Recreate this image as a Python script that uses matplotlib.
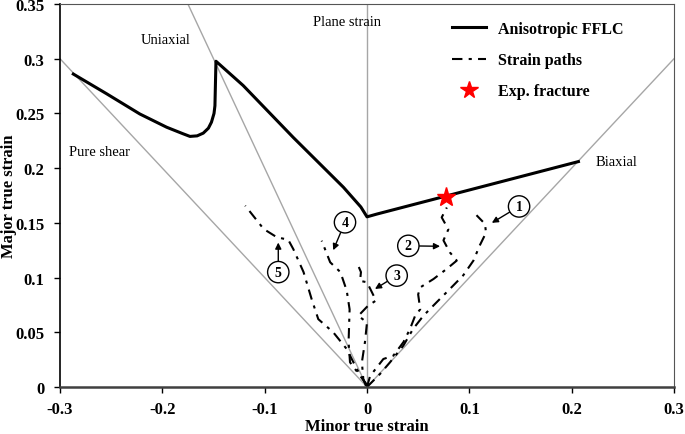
import matplotlib
matplotlib.use("Agg")
import matplotlib.pyplot as plt
from matplotlib.lines import Line2D

plt.rcParams['font.family'] = ['Liberation Serif', 'DejaVu Serif']

# FFLC curve
fflc_x = [-0.287, -0.2545, -0.222, -0.1958, -0.180, -0.173, -0.166, -0.160, -0.155, -0.152, -0.1495,
          -0.1486, -0.148, -0.1476, -0.121, -0.072, -0.023, -0.006, 0.0, 0.0095, 0.2066]
fflc_y = [0.286, 0.268, 0.2495, 0.2374, 0.2315, 0.229, 0.2295, 0.232, 0.2365, 0.242, 0.250,
          0.257, 0.2815, 0.2977, 0.2755, 0.228, 0.1825, 0.1645, 0.1555, 0.158, 0.206]

# Experimental fracture point
star_x = [0.0772]
star_y = [0.174]

# Strain paths
p1_x = [0.0, 0.0127, 0.0225, 0.0355, 0.045, 0.055, 0.068, 0.081, 0.094, 0.104, 0.110, 0.1163, 0.1153, 0.107]
p1_y = [0.0, 0.0119, 0.0226, 0.0378, 0.053, 0.065, 0.0774, 0.0896, 0.102, 0.1155, 0.129, 0.141, 0.149, 0.157]
p2_x = [0.0, 0.003, 0.016, 0.0257, 0.0356, 0.042, 0.047, 0.052, 0.050, 0.052, 0.065, 0.078, 0.0877, 0.081, 0.0747, 0.0795, 0.073, 0.078]
p2_y = [0.0, 0.010, 0.0256, 0.0286, 0.041, 0.053, 0.065, 0.071, 0.0846, 0.091, 0.0987, 0.108, 0.1155, 0.123, 0.134, 0.144, 0.155, 0.164]
p3_x = [-0.001, -0.0036, -0.005, -0.002, 0.0, -0.0085, 0.001, 0.0088, 0.0, -0.0068, -0.0059, -0.010]
p3_y = [0.001, 0.0073, 0.0226, 0.041, 0.059, 0.065, 0.0743, 0.079, 0.0957, 0.097, 0.105, 0.114]
p4_x = [0.0, -0.0068, -0.0166, -0.018, -0.017, -0.0198, -0.026, -0.036, -0.0443]
p4_y = [0.002, 0.0103, 0.0226, 0.041, 0.071, 0.088, 0.105, 0.114, 0.1337]
p5_x = [0.0, -0.002, -0.010, -0.0198, -0.033, -0.0476, -0.054, -0.062, -0.072, -0.077, -0.088, -0.101, -0.119]
p5_y = [0.001, 0.004, 0.0165, 0.0347, 0.050, 0.062, 0.080, 0.105, 0.126, 0.1346, 0.1368, 0.1444, 0.1657]
paths_x = [p1_x, p2_x, p3_x, p4_x, p5_x]
paths_y = [p1_y, p2_y, p3_y, p4_y, p5_y]

# Path labels: (label, circle x, circle y, arrow tip x, arrow tip y)
lab_names = ['1', '2', '3', '4', '5']
lab_cx = [0.1486, 0.0404, 0.029, -0.0215, -0.0867]
lab_cy = [0.165, 0.129, 0.1018, 0.1505, 0.105]
lab_tx = [0.122, 0.0714, 0.0078, -0.033, -0.0867]
lab_ty = [0.150, 0.1286, 0.0896, 0.125, 0.132]

# Reference lines
ref_x = [[0, -0.3], [0, -0.175], [0, 0], [0, 0.3]]
ref_y = [[0, 0.3], [0, 0.35], [0, 0.35], [0, 0.3]]
region_names = ['Uniaxial', 'Plane strain', 'Pure shear', 'Biaxial']
region_x = [-0.197, -0.02, -0.261, 0.244]
region_y = [0.318, 0.334, 0.215, 0.2057]

xticks = [-0.3, -0.2, -0.1, 0, 0.1, 0.2, 0.3]
xtick_labels = ['-0.3', '-0.2', '-0.1', '0', '0.1', '0.2', '0.3']
yticks = [0, 0.05, 0.1, 0.15, 0.2, 0.25, 0.3, 0.35]
ytick_labels = ['0', '0.05', '0.1', '0.15', '0.2', '0.25', '0.3', '0.35']

fig = plt.figure(figsize=(6.85, 4.35), dpi=100)
ax = fig.add_axes([60/685, 1-388/435, 614/685, 383/435])

for rx, ry in zip(ref_x, ref_y):
    ax.plot(rx, ry, color='#a6a6a6', lw=1.0, zorder=1)

ax.plot(fflc_x, fflc_y, color='black', lw=2.2, zorder=3)

dd = (5, 3, 1.5, 3)
for px, py in zip(paths_x, paths_y):
    ax.plot(px, py, color='black', lw=1.5, dashes=dd, zorder=2)

ax.plot(star_x, star_y, marker='*', color='#ff0000', markersize=14, ls='none', zorder=5)

for n, cx, cy, tx, ty in zip(lab_names, lab_cx, lab_cy, lab_tx, lab_ty):
    ax.annotate(n, xy=(tx, ty), xytext=(cx, cy), ha='center', va='center',
                fontsize=10, fontweight='bold',
                bbox=dict(boxstyle='circle,pad=0.3', fc='white', ec='black', lw=1.0),
                arrowprops=dict(arrowstyle='-|>', color='black', lw=1.0, mutation_scale=9,
                                shrinkA=0, shrinkB=0), zorder=6)

for t, x, y in zip(region_names, region_x, region_y):
    ax.text(x, y, t, ha='center', va='center', fontsize=10.5)

ax.set_xlim(-0.3, 0.3)
ax.set_ylim(0, 0.35)
ax.set_xticks(xticks)
ax.set_xticklabels(xtick_labels, fontweight='bold', fontsize=12)
ax.set_yticks(yticks)
ax.set_yticklabels(ytick_labels, fontweight='bold', fontsize=12)
ax.tick_params(direction='out', length=4, width=1)
ax.tick_params(axis='x', pad=6)
ax.tick_params(axis='y', pad=7)
ax.set_xlabel('Minor true strain', fontweight='bold', fontsize=12)
ax.set_ylabel('Major true strain', fontweight='bold', fontsize=12)
ax.xaxis.set_label_coords((367 - 60) / 614, (388 - 427) / 383)
ax.yaxis.set_label_coords((9 - 60) / 614, 0.5)
ax.xaxis.label.set_va('center')
ax.yaxis.label.set_va('center')

ax.spines['left'].set_color('black')
ax.spines['left'].set_linewidth(1.2)
ax.spines['bottom'].set_color('#404040')
ax.spines['bottom'].set_linewidth(1.8)
ax.spines['top'].set_color('#555555')
ax.spines['right'].set_color('#555555')

handles = [Line2D([], [], color='black', lw=2.2),
           Line2D([], [], color='black', lw=1.5, dashes=dd),
           Line2D([], [], color='#ff0000', marker='*', markersize=13, ls='none')]
leg = ax.legend(handles, ['Anisotropic FFLC', 'Strain paths', 'Exp. fracture'],
                loc='upper left', bbox_to_anchor=((452 - 60) / 614, (388 - 22) / 383),
                borderaxespad=0, borderpad=0, frameon=False,
                prop={'weight': 'bold', 'size': 11.5}, labelspacing=0.95, handlelength=2.1,
                handletextpad=0.8)

fig.savefig('out.png', dpi=100)
